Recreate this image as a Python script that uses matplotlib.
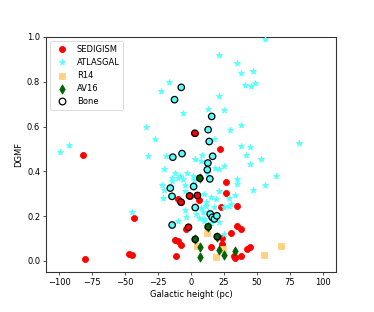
import matplotlib.pyplot as plt
from matplotlib.lines import Line2D

# SEDIGISM (circulos rojos)
sed_x = [-81.6, -80.7, -42.9, -47.2, -44.6, -12.0, -10.0, -7.4, -11.2, -9.5, 5.9, -3.6,
         22.3, 26.7, 26.7, 22.4, 34.6, 34.8, 37.6, 30.5, 23.7, 14.8, 23.4, 23.7,
         32.3, 33.5, 38.1, 42.2, 44.4,
         2.9, -7.6, -1.1, 4.9, -1.9]
sed_y = [0.472, 0.008, 0.193, 0.031, 0.024, 0.093, 0.090, 0.071, 0.021, 0.277, 0.272, 0.142,
         0.500, 0.351, 0.301, 0.242, 0.243, 0.154, 0.142, 0.124, 0.102, 0.063, 0.076, 0.053,
         0.021, 0.012, 0.022, 0.053, 0.063,
         0.570, 0.262, 0.290, 0.292, 0.150]

# ATLASGAL (estrellas)
atl_x = [55.8, 21.1, 35.0, 38.1, 47.4, 40.6, 45.2, 48.7, 21.6, 12.8, 25.4, 38.3, 29.9, 17.2,
         81.8, 37.7, 44.9, 41.9, 52.8, 8.7, 7.7, 18.4, 21.1, 24.9, 44.9, 64.7, 56.5, 46.9,
         35.2, 34.8, 33.4, 30.5, 21.6, 19.3, 28.7, 10.2, 15.3, 25.4, 17.8, 11.5,
         -99.3, -92.2, -34.5, -27.3, -32.4, -18.8, -22.4, -16.5, -6.4, 3.2, -44.4, -20.6,
         -12.5, -8.7, -3.3, -14.3, -21.9, -20.8, -5.9, -4.9, 1.4, 1.9, -21.0, -14.3, -10.0,
         -4.4, -3.6, -10.0, 3.9, 5.8, 10.2, 12.0, -4.2,
         7.7, 11.5, 12.8, 9.0, 10.2, 15.3, 21.6, 25.4, 29.2]
atl_y = [0.990, 0.920, 0.886, 0.839, 0.849, 0.787, 0.779, 0.794, 0.735, 0.680, 0.673, 0.607, 0.583, 0.546,
         0.527, 0.513, 0.510, 0.472, 0.453, 0.472, 0.446, 0.416, 0.409, 0.424, 0.431, 0.380, 0.340, 0.317,
         0.365, 0.342, 0.292, 0.253, 0.312, 0.275, 0.280, 0.298, 0.283, 0.239, 0.239, 0.261,
         0.486, 0.516, 0.600, 0.545, 0.470, 0.470, 0.760, 0.800, 0.660, 0.455, 0.220, 0.410,
         0.394, 0.380, 0.394, 0.357, 0.340, 0.316, 0.364, 0.337, 0.380, 0.360, 0.281, 0.372, 0.372,
         0.228, 0.194, 0.178, 0.209, 0.190, 0.178, 0.394, 0.312,
         0.238, 0.246, 0.216, 0.216, 0.187, 0.168, 0.172, 0.120, 0.246]

# R14 (cuadrados)
r14_x = [12.0, 4.6, 19.1, 24.1, 55.0, 67.9]
r14_y = [0.123, 0.068, 0.019, 0.052, 0.028, 0.068]

# AV16 (diamantes)
av_x = [7.0, 7.0, 21.1, 24.9, 33.0, 6.7, 13.0, 3.2, 19.9]
av_y = [0.062, 0.017, 0.050, 0.028, 0.043, 0.369, 0.152, 0.096, 0.108]

# Bone (circulos con borde negro) y el catalogo al que pertenecen
bone_x = [-7.4, -12.5, 15.7, 13.0, 13.8, -13.8, -6.8, 16.4, 12.8, 12.4, 14.3, -15.7, -14.4,
          2.0, 3.2, -14.3, 14.6, 16.1, 17.8, 19.6,
          2.9, -7.6, -1.1, 4.9, -1.9,
          6.7, 13.0, 3.2, 19.9]
bone_y = [0.775, 0.720, 0.645, 0.586, 0.533, 0.463, 0.479, 0.467, 0.437, 0.407, 0.366, 0.325, 0.288,
          0.332, 0.238, 0.160, 0.209, 0.194, 0.187, 0.201,
          0.570, 0.262, 0.290, 0.292, 0.150,
          0.369, 0.152, 0.096, 0.108]
bone_cat = ['ATLASGAL'] * 20 + ['SEDIGISM'] * 5 + ['AV16'] * 4

colores = {'SEDIGISM': 'red', 'ATLASGAL': '#55ffff', 'R14': '#ffd27f', 'AV16': 'darkgreen'}

fig = plt.figure(figsize=(374 / 60, 312 / 60), dpi=60)
ax = fig.add_axes([46 / 374, 40 / 312, 290 / 374, 235 / 312])

ax.scatter(sed_x, sed_y, s=52, color=colores['SEDIGISM'], label='SEDIGISM', zorder=2)
ax.scatter(atl_x, atl_y, s=55, marker='*', color=colores['ATLASGAL'], label='ATLASGAL', zorder=3)
ax.scatter(r14_x, r14_y, s=45, marker='s', color=colores['R14'], label='R14', zorder=4)
ax.scatter(av_x, av_y, s=60, marker='d', color=colores['AV16'], label='AV16', zorder=5)
ax.scatter(bone_x, bone_y, s=60, marker='o', facecolors=[colores[c] for c in bone_cat],
           edgecolors='black', linewidths=1.5, zorder=6)

handles, labels = ax.get_legend_handles_labels()
handles.append(Line2D([], [], ls='none', marker='o', markersize=8, markerfacecolor='none',
                      markeredgecolor='black', markeredgewidth=1.5))
labels.append('Bone')
ax.legend(handles, labels, loc='upper left', scatterpoints=1)

ax.set_xlim(-110, 110)
ax.set_ylim(-0.05, 1.0)
ax.set_xticks([-100, -75, -50, -25, 0, 25, 50, 75, 100])
ax.set_yticks([0.0, 0.2, 0.4, 0.6, 0.8, 1.0])
ax.set_xlabel('Galactic height (pc)')
ax.set_ylabel('DGMF')
for sp in ax.spines.values():
    sp.set_color('#333333')
    sp.set_linewidth(1.3)

fig.savefig('out.png', dpi=60)
